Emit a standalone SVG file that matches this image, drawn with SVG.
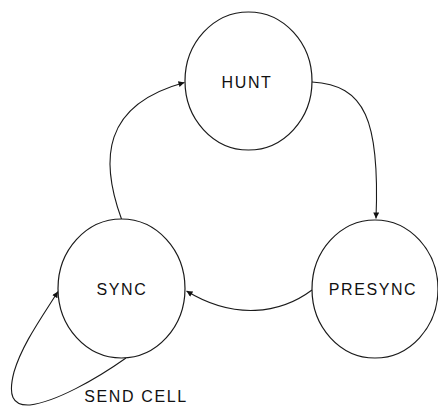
<svg xmlns="http://www.w3.org/2000/svg" width="438" height="406" viewBox="0 0 438 406">
<style>
.node ellipse{fill:#fff;stroke:#1a1a1a;stroke-width:1.2}
.node text{font-family:"Liberation Sans",Arial,sans-serif;font-size:16px;letter-spacing:1.6px;fill:#111;text-anchor:middle}
.lbl{font-family:"Liberation Sans",Arial,sans-serif;font-size:16px;letter-spacing:1.6px;fill:#111;text-anchor:middle}
.edge{fill:none;stroke:#1a1a1a;stroke-width:1.1;marker-end:url(#arr)}
</style>
<defs>
<marker id="arr" viewBox="0 0 10 10" refX="10" refY="5" markerWidth="8" markerHeight="6" markerUnits="userSpaceOnUse" orient="auto">
<path d="M0,0 L10,5 L0,10 z" fill="#111"/>
</marker>
</defs>
<rect width="438" height="406" fill="#fff"/>
<g id="connectors">
<path class="edge" d="M121.5,219 C100,160 102,105 184.5,82.5"/>
<path class="edge" d="M312,82 C365,85 380,120 376,218.5"/>
<path class="edge" d="M312,290 C280,314 234,320 186.5,291"/>
<path class="edge" d="M126,358 C95,380 55,402 30,405 C12,406 8,395 14,372 C22,345 40,320 58,291.5"/>
</g>
<g id="HUNT" class="node">
<ellipse cx="248.5" cy="81" rx="63.5" ry="69"/>
<text x="247" y="88">HUNT</text>
</g>
<g id="SYNC" class="node">
<ellipse cx="121.5" cy="288.5" rx="63.5" ry="69.5"/>
<text x="122" y="294.5">SYNC</text>
</g>
<g id="PRESYNC" class="node">
<ellipse cx="375" cy="289" rx="63" ry="69"/>
<text x="373" y="294.5">PRESYNC</text>
</g>
<text class="lbl" x="136" y="401.5">SEND CELL</text>
</svg>
